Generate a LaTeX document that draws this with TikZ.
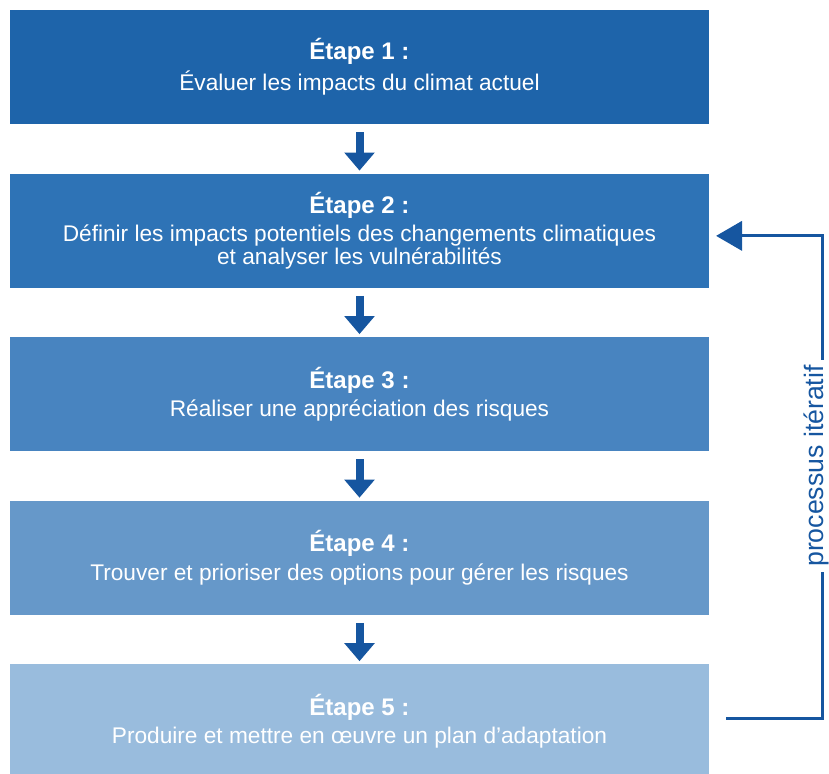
\documentclass[tikz,border=0pt]{standalone}
\usepackage{fontspec}
\setmainfont{Liberation Sans}
\usetikzlibrary{arrows.meta, positioning}

\definecolor{stepone}{RGB}{30,100,170}
\definecolor{steptwo}{RGB}{46,115,182}
\definecolor{stepthree}{RGB}{72,132,192}
\definecolor{stepfour}{RGB}{102,152,201}
\definecolor{stepfive}{RGB}{153,188,221}
\definecolor{arrowblue}{RGB}{22,86,160}

\begin{document}
\begin{tikzpicture}[
    x=0.75pt, y=-0.75pt,
    node distance=36.75pt,
    font=\fontsize{17}{16}\selectfont,
    % Step boxes
    stepbox/.style={rectangle, text=white, minimum width=524pt, minimum height=85.5pt, align=center, inner sep=0pt},
    % Connectors
    down/.style={line width=6pt, draw=arrowblue, -{Triangle[width=22pt, length=13.5pt]}, shorten <=6pt, shorten >=2pt},
    loopline/.style={line width=2.25pt, draw=arrowblue},
    iterlabel/.style={rotate=90, anchor=south, text=arrowblue, font=\fontsize{20}{20}\selectfont, inner xsep=4pt, inner ysep=0pt},
]
\useasboundingbox (0,0) rectangle (829,774);

% Steps
\node[stepbox, fill=stepone] (s1) at (359.5,67) {\textbf{\fontsize{18}{18}\selectfont Étape 1 :}\\[4pt]Évaluer les impacts du climat actuel};
\node[stepbox, fill=steptwo, below=of s1] (s2) {\textbf{\fontsize{18}{18}\selectfont Étape 2 :}\\[4pt]Définir les impacts potentiels des changements climatiques\\et analyser les vulnérabilités};
\node[stepbox, fill=stepthree, below=of s2] (s3) {\textbf{\fontsize{18}{18}\selectfont Étape 3 :}\\[4pt]Réaliser une appréciation des risques};
\node[stepbox, fill=stepfour, below=of s3] (s4) {\textbf{\fontsize{18}{18}\selectfont Étape 4 :}\\[4pt]Trouver et prioriser des options pour gérer les risques};
\node[stepbox, fill=stepfive, below=of s4] (s5) {\textbf{\fontsize{18}{18}\selectfont Étape 5 :}\\[4pt]Produire et mettre en œuvre un plan d’adaptation};

% Flow
\draw[down] (s1) -- (s2);
\draw[down] (s2) -- (s3);
\draw[down] (s3) -- (s4);
\draw[down] (s4) -- (s5);

% Iteration loop
\coordinate (loopx) at (822,466);
\node[iterlabel] (iter) at (829,466) {processus itératif};
\draw[loopline] ([xshift=12.75pt, yshift=2.25pt]s5.east) -| (loopx |- iter.west);
\draw[loopline, -{Triangle[width=22pt, length=19.5pt]}] (loopx |- iter.east) |- ([xshift=5.25pt, yshift=-4pt]s2.east);

\end{tikzpicture}
\end{document}
